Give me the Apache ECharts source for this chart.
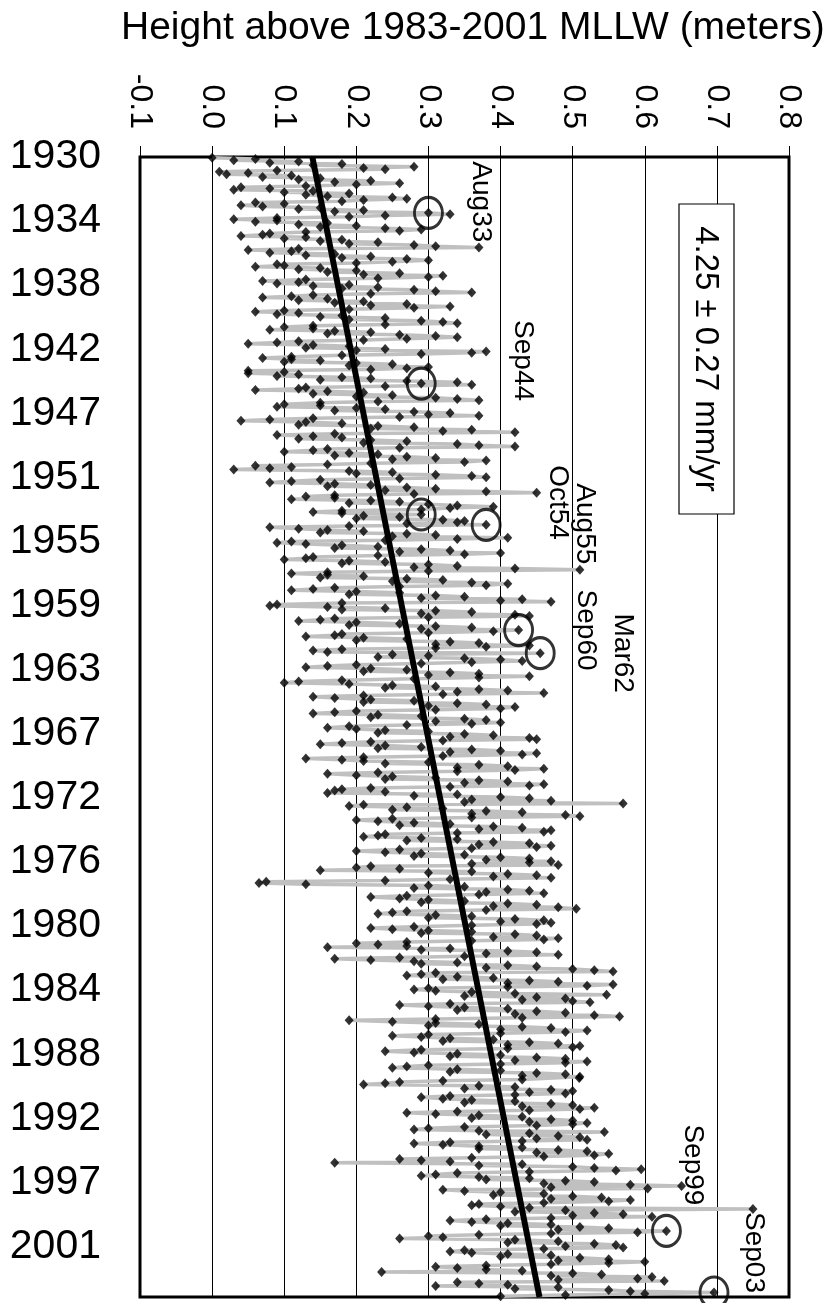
<!DOCTYPE html>
<html>
<head>
<meta charset="utf-8">
<script src="https://cdn.jsdelivr.net/npm/echarts@6/dist/echarts.min.js"></script>
<style>
html,body{margin:0;padding:0;background:#fff}
#chart{width:833px;height:1303px}
</style>
</head>
<body>
<div id="chart"></div>
<script>
// ---------------- data (monthly mean heights, meters, Jan..Dec per row) ----------------
const startYear = 1930;
const titleText = 'Height above 1983-2001 MLLW (meters)';
const trendText = '4.25 \u00b1 0.27 mm/yr';

const h1930s = [
0.00,0.06,0.03,0.12,0.08,0.18,0.14,0.28,0.21,0.24,0.09,0.01,
0.05,0.02,0.11,0.07,0.15,0.12,0.22,0.17,0.26,0.20,0.13,0.04,
0.08,0.03,0.14,0.10,0.19,0.13,0.16,0.25,0.27,0.21,0.18,0.06,
0.10,0.04,0.07,0.15,0.12,0.21,0.17,0.30,0.33,0.24,0.19,0.09,
0.03,0.09,0.06,0.16,0.12,0.20,0.15,0.24,0.29,0.26,0.13,0.08,
0.07,0.04,0.13,0.10,0.18,0.15,0.23,0.19,0.28,0.31,0.37,0.12,
0.05,0.11,0.08,0.17,0.13,0.22,0.18,0.27,0.30,0.25,0.20,0.09,
0.10,0.06,0.15,0.12,0.20,0.16,0.26,0.21,0.32,0.30,0.23,0.13,
0.07,0.12,0.09,0.19,0.14,0.23,0.18,0.28,0.31,0.36,0.22,0.14,
0.11,0.07,0.16,0.12,0.21,0.17,0.27,0.22,0.33,0.28,0.19,0.10];

const h1940s = [
0.06,0.12,0.09,0.18,0.15,0.24,0.19,0.29,0.32,0.34,0.24,0.14,
0.10,0.14,0.08,0.17,0.22,0.16,0.26,0.31,0.34,0.27,0.21,0.12,
0.09,0.05,0.14,0.19,0.13,0.24,0.20,0.38,0.36,0.29,0.18,0.11,
0.07,0.11,0.15,0.10,0.20,0.25,0.19,0.30,0.27,0.22,0.05,0.10,
0.05,0.12,0.09,0.18,0.22,0.15,0.27,0.34,0.29,0.36,0.24,0.13,
0.12,0.06,0.16,0.21,0.14,0.25,0.20,0.31,0.34,0.37,0.23,0.15,
0.10,0.15,0.09,0.20,0.24,0.17,0.28,0.33,0.30,0.37,0.26,0.14,
0.08,0.04,0.13,0.18,0.12,0.23,0.28,0.22,0.36,0.32,0.42,0.17,
0.09,0.14,0.18,0.12,0.22,0.27,0.21,0.34,0.37,0.42,0.26,0.16,
0.14,0.10,0.19,0.23,0.17,0.27,0.31,0.25,0.38,0.35,0.22,0.16];

const h1950s = [
0.06,0.11,0.08,0.03,0.19,0.25,0.20,0.31,0.36,0.38,0.26,0.15,
0.11,0.08,0.17,0.22,0.16,0.27,0.31,0.24,0.38,0.45,0.28,0.17,
0.13,0.17,0.11,0.22,0.26,0.19,0.30,0.34,0.39,0.33,0.29,0.18,
0.14,0.18,0.29,0.21,0.26,0.20,0.32,0.35,0.34,0.27,0.38,0.19,
0.08,0.12,0.16,0.21,0.15,0.27,0.31,0.25,0.41,0.34,0.24,0.11,
0.09,0.13,0.18,0.23,0.17,0.29,0.33,0.26,0.40,0.35,0.23,0.14,
0.13,0.10,0.19,0.24,0.18,0.30,0.34,0.28,0.42,0.51,0.30,0.16,
0.11,0.16,0.21,0.15,0.27,0.32,0.25,0.36,0.41,0.38,0.26,0.17,
0.14,0.11,0.20,0.26,0.19,0.31,0.35,0.29,0.43,0.40,0.47,0.18,
0.09,0.08,0.16,0.24,0.18,0.31,0.36,0.29,0.42,0.44,0.30,0.17];

const h1960s = [
0.15,0.12,0.20,0.26,0.19,0.31,0.36,0.29,0.425,0.39,0.30,0.18,
0.17,0.13,0.21,0.27,0.20,0.33,0.37,0.31,0.44,0.38,0.31,0.18,
0.14,0.16,0.455,0.25,0.30,0.23,0.35,0.40,0.43,0.36,0.29,0.20,
0.16,0.13,0.22,0.27,0.21,0.33,0.37,0.30,0.44,0.37,0.28,0.18,
0.12,0.10,0.19,0.25,0.31,0.24,0.37,0.41,0.34,0.46,0.32,0.21,
0.14,0.17,0.22,0.28,0.21,0.34,0.38,0.30,0.42,0.40,0.31,0.20,
0.17,0.14,0.23,0.29,0.22,0.35,0.38,0.31,0.40,0.36,0.27,0.19,
0.16,0.20,0.24,0.30,0.23,0.35,0.39,0.33,0.44,0.45,0.32,0.22,
0.18,0.15,0.24,0.29,0.23,0.36,0.40,0.33,0.45,0.43,0.32,0.21,
0.13,0.18,0.21,0.30,0.24,0.37,0.41,0.34,0.46,0.42,0.34,0.23];

const h1970s = [
0.16,0.20,0.25,0.31,0.24,0.37,0.41,0.35,0.46,0.44,0.33,0.22,
0.18,0.17,0.24,0.16,0.34,0.28,0.40,0.44,0.36,0.47,0.35,0.57,
0.21,0.19,0.27,0.32,0.25,0.38,0.43,0.36,0.49,0.51,0.36,0.25,
0.20,0.23,0.28,0.33,0.26,0.39,0.43,0.37,0.47,0.46,0.34,0.24,
0.23,0.21,0.29,0.34,0.27,0.39,0.44,0.37,0.47,0.45,0.36,0.26,
0.20,0.24,0.29,0.35,0.28,0.40,0.44,0.38,0.47,0.44,0.36,0.48,
0.22,0.20,0.26,0.15,0.36,0.30,0.41,0.45,0.39,0.47,0.33,0.24,
0.075,0.065,0.13,0.30,0.35,0.28,0.41,0.44,0.38,0.46,0.37,0.27,
0.22,0.26,0.30,0.35,0.29,0.41,0.45,0.39,0.48,0.505,0.38,0.27,
0.25,0.23,0.31,0.36,0.30,0.42,0.46,0.40,0.47,0.45,0.36,0.28];

const h1980s = [
0.22,0.25,0.30,0.36,0.29,0.42,0.45,0.39,0.48,0.46,0.36,0.27,
0.20,0.23,0.27,0.16,0.33,0.29,0.41,0.45,0.38,0.48,0.35,0.26,
0.17,0.22,0.28,0.34,0.29,0.41,0.45,0.38,0.50,0.53,0.556,0.31,
0.29,0.27,0.34,0.39,0.32,0.44,0.48,0.41,0.556,0.52,0.41,0.30,
0.28,0.31,0.36,0.42,0.547,0.35,0.45,0.49,0.43,0.50,0.524,0.33,
0.26,0.30,0.35,0.41,0.34,0.45,0.49,0.42,0.53,0.565,0.43,0.31,
0.19,0.25,0.31,0.37,0.30,0.43,0.47,0.40,0.52,0.49,0.40,0.30,
0.25,0.29,0.33,0.39,0.32,0.44,0.48,0.41,0.51,0.50,0.41,0.29,
0.24,0.28,0.34,0.40,0.33,0.45,0.49,0.42,0.52,0.49,0.40,0.30,
0.27,0.25,0.34,0.40,0.33,0.45,0.49,0.43,0.51,0.509,0.43,0.32];

const h1990s = [
0.26,0.24,0.21,0.37,0.42,0.35,0.47,0.50,0.44,0.49,0.42,0.33,
0.29,0.32,0.36,0.42,0.35,0.47,0.50,0.43,0.53,0.51,0.44,0.34,
0.27,0.31,0.37,0.43,0.36,0.47,0.50,0.44,0.52,0.50,0.45,0.35,
0.30,0.28,0.37,0.544,0.44,0.38,0.48,0.51,0.45,0.52,0.43,0.33,
0.28,0.32,0.37,0.43,0.37,0.48,0.52,0.45,0.55,0.53,0.46,0.36,
0.26,0.29,0.33,0.17,0.43,0.37,0.50,0.53,0.595,0.56,0.44,0.34,
0.31,0.29,0.37,0.44,0.38,0.49,0.53,0.46,0.58,0.651,0.47,0.604,
0.32,0.35,0.40,0.46,0.39,0.50,0.54,0.47,0.58,0.55,0.46,0.37,
0.36,0.40,0.44,0.75,0.49,0.42,0.53,0.57,0.50,0.61,0.47,0.38,
0.33,0.36,0.41,0.47,0.40,0.51,0.55,0.48,0.63,0.59,0.47,0.37];

const h2000s = [
0.30,0.32,0.26,0.42,0.48,0.41,0.53,0.56,0.49,0.57,0.46,0.35,
0.33,0.36,0.41,0.47,0.40,0.51,0.55,0.48,0.60,0.55,0.47,0.38,
0.31,0.34,0.38,0.43,0.235,0.50,0.54,0.47,0.61,0.59,0.48,0.627,
0.34,0.37,0.41,0.31,0.48,0.42,0.55,0.58,0.696,0.60,0.49,0.40];

// linear trend (end points)
const trendYears = [1930, 2004];
const trendHeights = [0.139, 0.454];

// axis ticks
const heightMin = -0.1, heightMax = 0.8, heightStep = 0.1;
const yearSpanMax = 74;        // axis runs 1930 .. 2004
const yearLabelStep = 4.16;    // spacing of the year labels (years)

// circled events: label, year, month
const eventLabels = ['Aug33','Sep44','Oct54','Aug55','Sep60','Mar62','Sep99','Sep03'];
const eventYears  = [1933, 1944, 1953, 1953, 1960, 1962, 1999, 2003];
const eventMonths = [8, 9, 3, 11, 9, 3, 9, 9];

// ---------------- build ----------------
const heights = [].concat(h1930s, h1940s, h1950s, h1960s, h1970s, h1980s, h1990s, h2000s);
const points = heights.map((h, i) => [h, (i + 0.5) / 12]);
const trendPts = trendYears.map((y, i) => [trendHeights[i], y - startYear]);
const eventPts = eventYears.map((y, i) => {
  const idx = (y - startYear) * 12 + eventMonths[i] - 1;
  return points[idx];
});

function fontAvailable(name) {
  const ctx = document.createElement('canvas').getContext('2d');
  const s = 'mmmmmmmmmwwwwwlli 0123456789.-';
  ctx.font = '40px monospace';
  const a = ctx.measureText(s).width;
  ctx.font = '40px "' + name + '", monospace';
  const b = ctx.measureText(s).width;
  return Math.abs(a - b) > 0.5;
}
const FONT = '"Liberation Sans", Arial, Helvetica, sans-serif';
const hasNarrow = fontAvailable('Liberation Sans Narrow');
const TICK_FONT = hasNarrow ? '"Liberation Sans Narrow", "Liberation Sans", Arial, sans-serif' : FONT;
const TICK_SIZE = hasNarrow ? 37 : 32;

const chart = echarts.init(document.getElementById('chart'), null, {renderer: 'canvas'});

const option = {
  animation: false,
  backgroundColor: '#ffffff',
  title: {
    text: titleText, left: 116, top: 4,
    textStyle: {fontFamily: FONT, fontSize: 39, fontWeight: 'normal', color: '#000'}
  },
  grid: {left: 140, right: 44, top: 157, bottom: 6, show: true,
         borderColor: '#000', borderWidth: 3, backgroundColor: 'transparent', containLabel: false},
  xAxis: {
    type: 'value', position: 'top', min: heightMin, max: heightMax, interval: heightStep,
    axisLine: {show: false},
    axisTick: {show: true, inside: false, length: 11, lineStyle: {color: '#000', width: 1}},
    splitLine: {show: true, lineStyle: {color: '#000', width: 1}},
    axisLabel: {rotate: -90, margin: 28, fontSize: TICK_SIZE, color: '#000', fontFamily: TICK_FONT,
                padding: [0, 0, 8, 0],
                showMinLabel: true, showMaxLabel: true,
                formatter: v => v.toFixed(1)}
  },
  yAxis: {
    type: 'value', inverse: true, min: 0, max: yearSpanMax, interval: yearLabelStep,
    axisLine: {show: false}, axisTick: {show: false}, splitLine: {show: false},
    axisLabel: {fontSize: 41, color: '#000', fontFamily: FONT, margin: 39,
                padding: [9, 0, 0, 0],
                showMinLabel: true, showMaxLabel: false,
                formatter: v => String(Math.round(startYear + v))}
  },
  series: [
    {type: 'line', data: points, symbol: 'none', showSymbol: false, z: 2, silent: true,
     lineStyle: {color: '#c0c0c0', width: 3.5}},
    {type: 'scatter', data: points, symbol: 'diamond', symbolSize: [9, 10], z: 3, silent: true,
     itemStyle: {color: '#000'}},
    {type: 'line', data: trendPts, symbol: 'none', showSymbol: false, z: 4, silent: true,
     lineStyle: {color: '#000', width: 6}},
    {type: 'scatter', data: eventPts, symbol: 'circle', symbolSize: [28, 31], z: 5, silent: true,
     itemStyle: {color: 'rgba(0,0,0,0)', borderColor: '#000', borderWidth: 3}}
  ]
};
chart.setOption(option);

// event labels placed relative to their circled points (pixel offsets)
const labelOffsets = [[52,-11],[101,-23],[136,-12],[99,-1],[67,0],[83,0],[26,-66],[40,-40]];
const graphics = eventPts.map((p, i) => {
  const px = chart.convertToPixel({gridIndex: 0}, p);
  return {
    type: 'text', x: px[0] + labelOffsets[i][0], y: px[1] + labelOffsets[i][1],
    rotation: -Math.PI / 2, z: 20,
    style: {text: eventLabels[i], font: '28px ' + FONT, fill: '#000',
            align: 'center', verticalAlign: 'middle', textAlign: 'center', textVerticalAlign: 'middle'}
  };
});
// trend rate box
graphics.push({
  type: 'rect', shape: {x: 679, y: 204, width: 55, height: 310}, z: 20,
  style: {fill: '#fff', stroke: '#000', lineWidth: 1.2}
});
graphics.push({
  type: 'text', x: 705, y: 359, rotation: -Math.PI / 2, z: 21,
  style: {text: trendText, font: '33px ' + FONT, fill: '#000',
          align: 'center', verticalAlign: 'middle', textAlign: 'center', textVerticalAlign: 'middle'}
});
chart.setOption({graphic: graphics});
</script>
</body>
</html>
